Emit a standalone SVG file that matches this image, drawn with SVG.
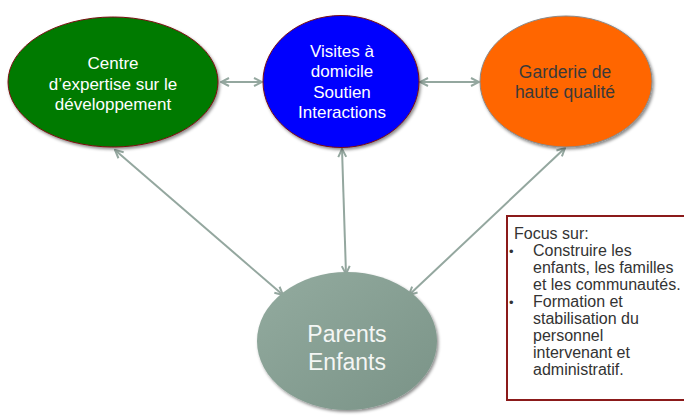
<svg xmlns="http://www.w3.org/2000/svg" width="684" height="415" viewBox="0 0 684 415">
<defs>
<filter id="sh" x="-20%" y="-20%" width="140%" height="140%">
<feDropShadow dx="1.5" dy="2" stdDeviation="1.8" flood-color="#000" flood-opacity="0.45"/>
</filter>
<linearGradient id="gp" x1="0" y1="0" x2="1" y2="1">
<stop offset="0" stop-color="#93ab9f"/>
<stop offset="1" stop-color="#7a9387"/>
</linearGradient>
<marker id="ar" viewBox="0 0 10 10" refX="9" refY="5" markerWidth="10" markerHeight="10" markerUnits="userSpaceOnUse" orient="auto-start-reverse">
<path d="M1,1 L9,5 L1,9" fill="none" stroke="#94a79f" stroke-width="2"/>
</marker>
</defs>
<style>
.t{font-family:"Liberation Sans",Arial,sans-serif;text-anchor:middle}
.c{stroke:#94a79f;stroke-width:2;fill:none;marker-start:url(#ar);marker-end:url(#ar)}
.b{font-family:"Liberation Sans",Arial,sans-serif;font-size:16px;fill:#333}
</style>
<rect width="684" height="415" fill="#fff"/>
<g id="connectors">
<line class="c" x1="221" y1="82" x2="262" y2="82"/>
<line class="c" x1="420" y1="82" x2="479" y2="82"/>
<line class="c" x1="115" y1="150" x2="283" y2="295"/>
<line class="c" x1="342" y1="149" x2="346" y2="274"/>
<line class="c" x1="565" y1="148" x2="409" y2="295"/>
</g>
<g id="centre">
<ellipse cx="113" cy="82" rx="105" ry="65" fill="#037a03" stroke="#7a1010" stroke-width="1" filter="url(#sh)"/>
<text class="t" font-size="17" fill="#fff"><tspan x="113" y="69">Centre</tspan><tspan x="113" y="90">d’expertise sur le</tspan><tspan x="113" y="110">développement</tspan></text>
</g>
<g id="visites">
<ellipse cx="341" cy="81.5" rx="78" ry="66" fill="#0000fe" stroke="#7a1010" stroke-width="1" filter="url(#sh)"/>
<text class="t" font-size="17" fill="#fff"><tspan x="342" y="57">Visites à</tspan><tspan x="342" y="77">domicile</tspan><tspan x="342" y="98">Soutien</tspan><tspan x="342" y="118">Interactions</tspan></text>
</g>
<g id="garderie">
<ellipse cx="566" cy="81.5" rx="86" ry="65.5" fill="#ff6600" stroke="#8a8a8a" stroke-width="1" filter="url(#sh)"/>
<text class="t" font-size="17.5" fill="#3a3a3a"><tspan x="565" y="78">Garderie de</tspan><tspan x="565" y="98">haute qualité</tspan></text>
</g>
<g id="parents">
<ellipse cx="347" cy="341" rx="90" ry="69" fill="url(#gp)" filter="url(#sh)"/>
<text class="t" font-size="23" fill="#f4f6f4"><tspan x="347" y="342">Parents</tspan><tspan x="347" y="370">Enfants</tspan></text>
</g>
<g id="focus">
<rect x="507" y="216" width="190" height="184" fill="#fff" stroke="#8b1a1a" stroke-width="2"/>
<text class="b"><tspan x="514" y="239">Focus sur:</tspan></text>
<text class="b"><tspan x="509" y="256" font-size="13">•</tspan><tspan x="533" y="256">Construire les</tspan><tspan x="533" y="273">enfants, les familles</tspan><tspan x="533" y="290">et les communautés.</tspan><tspan x="509" y="307" font-size="13">•</tspan><tspan x="533" y="307">Formation et</tspan><tspan x="533" y="324">stabilisation du</tspan><tspan x="533" y="341">personnel</tspan><tspan x="533" y="358">intervenant et</tspan><tspan x="533" y="375">administratif.</tspan></text>
</g>
</svg>
